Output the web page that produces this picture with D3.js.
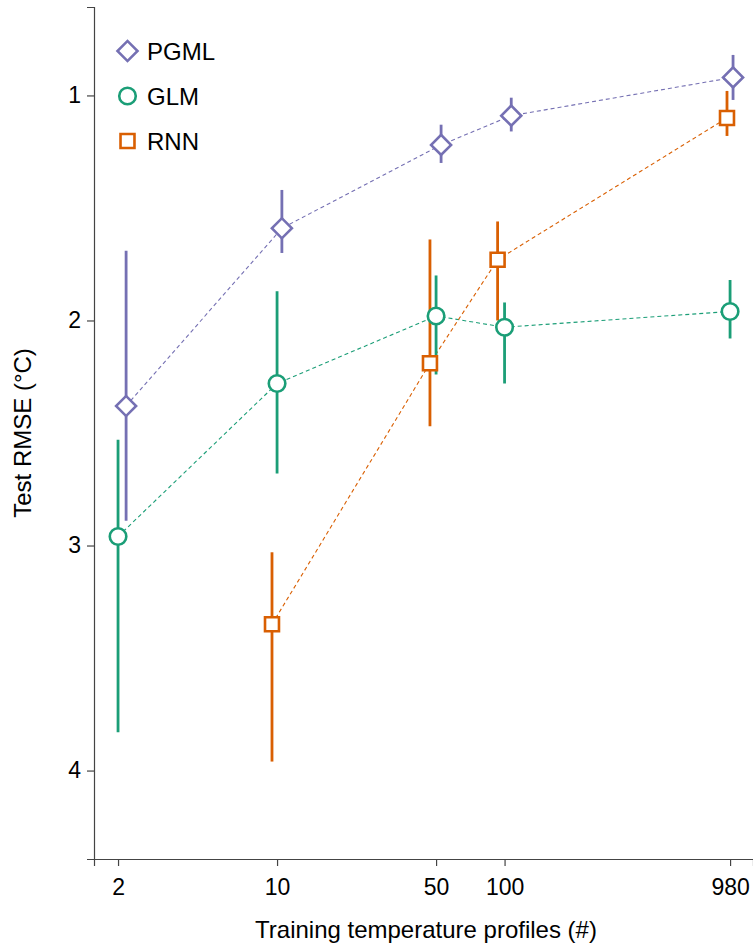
<!DOCTYPE html>
<html>
<head>
<meta charset="utf-8">
<script src="https://cdn.jsdelivr.net/npm/d3@7"></script>
<style>
body { margin: 0; background: #fff; }
text { font-family: "Liberation Sans", Arial, sans-serif; }
</style>
</head>
<body>
<script>
var W = 753, H = 944;
var margin = {top: 7, right: 0, bottom: 85, left: 94};

// data (x is the plotted, slightly jittered position)
var xTicks = [2, 10, 50, 100, 980];
var yTicks = [1, 2, 3, 4];

var pgmlX    = [2.17, 10.5, 52.6, 107, 1010];
var pgmlMean = [2.38, 1.59, 1.22, 1.09, 0.92];
var pgmlLow  = [1.69, 1.42, 1.13, 1.01, 0.82];
var pgmlHigh = [2.89, 1.70, 1.30, 1.16, 1.02];

var glmX    = [2, 10, 50, 100, 980];
var glmMean = [2.96, 2.28, 1.98, 2.03, 1.96];
var glmLow  = [2.53, 1.87, 1.80, 1.92, 1.82];
var glmHigh = [3.83, 2.68, 2.24, 2.28, 2.08];

var rnnX    = [9.5, 47, 93.2, 950];
var rnnMean = [3.35, 2.19, 1.73, 1.10];
var rnnLow  = [3.03, 1.64, 1.56, 0.98];
var rnnHigh = [3.96, 2.47, 2.00, 1.18];

function rows(xs, m, lo, hi) {
  return xs.map(function(x, i) { return {x: x, m: m[i], lo: lo[i], hi: hi[i]}; });
}

var series = [
  {name: "PGML", shape: "diamond", color: "#7570b3", data: rows(pgmlX, pgmlMean, pgmlLow, pgmlHigh)},
  {name: "GLM", shape: "circle", color: "#1b9e77", data: rows(glmX, glmMean, glmLow, glmHigh)},
  {name: "RNN", shape: "square", color: "#d95f02", data: rows(rnnX, rnnMean, rnnLow, rnnHigh)}
];

var svg = d3.select("body").append("svg")
  .attr("width", W).attr("height", H);

var xScale = d3.scaleLog()
  .domain([1.568, 1236])
  .range([margin.left, W - margin.right]);

var yScale = d3.scaleLinear()
  .domain([0.607, 4.393])
  .range([margin.top, H - margin.bottom]);

var xAxis = d3.axisBottom(xScale).tickValues(xTicks).tickFormat(d3.format("d")).tickSizeOuter(0).tickSize(7).tickPadding(13);
var yAxis = d3.axisLeft(yScale).tickValues(yTicks).tickFormat(d3.format("d")).tickSizeOuter(0).tickSize(7).tickPadding(6);

var gx = svg.append("g").attr("transform", "translate(0," + (H - margin.bottom) + ")").call(xAxis);
var gy = svg.append("g").attr("transform", "translate(" + margin.left + ",0)").call(yAxis);

[gx, gy].forEach(function(g) {
  g.select(".domain").attr("stroke", "#444").attr("stroke-width", 1.2);
  g.selectAll(".tick line").attr("stroke", "#444").attr("stroke-width", 1.2);
  g.selectAll(".tick text").attr("font-size", 23).attr("fill", "#000")
    .style("font-family", "'Liberation Sans', Arial, sans-serif");
});

svg.append("text")
  .attr("x", 426).attr("y", 938)
  .attr("text-anchor", "middle").attr("font-size", 24)
  .text("Training temperature profiles (#)");

svg.append("text")
  .attr("transform", "translate(31,433) rotate(-90)")
  .attr("text-anchor", "middle").attr("font-size", 24)
  .text("Test RMSE (°C)");

var symbols = {
  diamond: d3.symbol().type(d3.symbolSquare).size(200),
  circle: d3.symbol().type(d3.symbolCircle).size(215),
  square: d3.symbol().type(d3.symbolSquare).size(195)
};
function marker(sel, s) {
  sel.attr("d", symbols[s.shape]())
    .attr("fill", "#fff")
    .attr("stroke", s.color)
    .attr("stroke-width", 2.6);
}
function markerTransform(s, x, y) {
  return "translate(" + x + "," + y + ")" + (s.shape === "diamond" ? " rotate(45)" : "");
}

// dashed connectors
var line = d3.line();
series.forEach(function(s) {
  svg.append("path")
    .attr("d", line(s.data.map(function(d) { return [xScale(d.x), yScale(d.m)]; })))
    .attr("fill", "none")
    .attr("stroke", s.color)
    .attr("stroke-width", 1.1)
    .attr("stroke-dasharray", "4,3");
});

// error bars
series.forEach(function(s) {
  svg.append("g").selectAll("line").data(s.data).join("line")
    .attr("x1", function(d) { return xScale(d.x); })
    .attr("x2", function(d) { return xScale(d.x); })
    .attr("y1", function(d) { return yScale(d.lo); })
    .attr("y2", function(d) { return yScale(d.hi); })
    .attr("stroke", s.color)
    .attr("stroke-width", 2.8);
});

// points
series.forEach(function(s) {
  svg.append("g").selectAll("path").data(s.data).join("path")
    .attr("transform", function(d) { return markerTransform(s, xScale(d.x), yScale(d.m)); })
    .call(marker, s);
});

// legend
var legend = svg.append("g");
series.forEach(function(s, i) {
  var y = 51 + i * 45;
  legend.append("path")
    .attr("transform", markerTransform(s, 127.5, y))
    .call(marker, s);
  legend.append("text")
    .attr("x", 147).attr("y", y + 8.5)
    .attr("font-size", 24)
    .text(s.name);
});
</script>
</body>
</html>
